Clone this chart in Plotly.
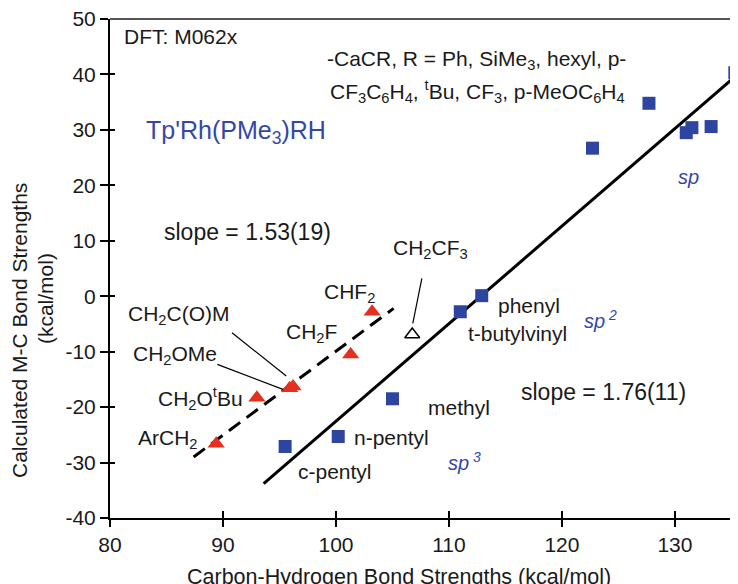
import plotly.graph_objects as go

# ---- data ----
sq_x = [135.3, 127.7, 122.7, 131.0, 131.5, 133.2, 112.9, 111.0, 105.0, 100.2, 95.5]
sq_y = [40.3, 34.8, 26.7, 29.5, 30.4, 30.6, 0.1, -2.8, -18.5, -25.3, -27.1]

tri_x = [89.4, 93.0, 95.9, 96.2, 101.3, 103.2]
tri_y = [-26.6, -18.3, -16.6, -16.3, -10.5, -2.8]

open_tri_x = [106.75]
open_tri_y = [-6.9]

fit_sp_x = [93.6, 135.6]
fit_sp_y = [-33.8, 40.1]

fit_dash_x = [87.4, 105.1]
fit_dash_y = [-29.0, -2.2]

x_ticks = [80, 90, 100, 110, 120, 130]
x_tick_labels = ["80", "90", "100", "110", "120", "130"]
y_ticks = [-40, -30, -20, -10, 0, 10, 20, 30, 40, 50]
y_tick_labels = ["-40", "-30", "-20", "-10", "0", "10", "20", "30", "40", "50"]

BLUE = "#2d44a1"
RED = "#e5301f"
TXT = "#1a1a1a"
FONT = "Liberation Sans, Arial, sans-serif"

fig = go.Figure()

fig.add_trace(go.Scatter(x=fit_sp_x, y=fit_sp_y, mode="lines",
                         line=dict(color="black", width=3), hoverinfo="skip"))
fig.add_trace(go.Scatter(x=fit_dash_x, y=fit_dash_y, mode="lines",
                         line=dict(color="black", width=3, dash="14px,8px"), hoverinfo="skip"))
fig.add_trace(go.Scatter(x=sq_x, y=sq_y, mode="markers",
                         marker=dict(symbol="square", size=13, color=BLUE, line=dict(width=0))))
fig.add_trace(go.Scatter(x=tri_x, y=tri_y, mode="markers",
                         marker=dict(symbol="triangle-up", size=15, color=RED, line=dict(width=0))))
fig.add_trace(go.Scatter(x=open_tri_x, y=open_tri_y, mode="markers",
                         marker=dict(symbol="triangle-up-open", size=13, color="black",
                                     line=dict(width=1.5, color="black"))))
# invisible trace on the overlay axes (for inside tick marks)
fig.add_trace(go.Scatter(x=[80], y=[-40], xaxis="x2", yaxis="y2", mode="markers",
                         marker=dict(opacity=0), hoverinfo="skip"))

# leader lines
leaders = [
    ((90.8, -6.6), (95.6, -14.4)),
    ((89.5, -12.3), (95.3, -16.8)),
    ((107.6, 3.2), (106.8, -4.9)),
]
for (x0, y0), (x1, y1) in leaders:
    fig.add_shape(type="line", x0=x0, y0=y0, x1=x1, y1=y1, xref="x", yref="y",
                  line=dict(color="black", width=1.2))

# top frame line
fig.add_shape(type="line", xref="paper", yref="paper", x0=0, x1=1, y0=1, y1=1,
              line=dict(color="#555555", width=2))

def lab(text, x, y, size=21, color=TXT, italic=False):
    fig.add_annotation(x=x, y=y, xref="x", yref="y", text=text, showarrow=False,
                       xanchor="left", yanchor="middle",
                       font=dict(family=FONT, size=size, color=color,
                                 style="italic" if italic else "normal"))

SUBBLUE = "#3447a8"
lab("DFT: M062x", 81.1, 46.8, size=21)
lab("-CaCR, R = Ph, SiMe<sub>3</sub>, hexyl, p-", 99.0, 42.6, size=21)
lab("CF<sub>3</sub>C<sub>6</sub>H<sub>4</sub>, <sup>t</sup>Bu, CF<sub>3</sub>, p-MeOC<sub>6</sub>H<sub>4</sub>", 99.3, 37.0, size=21)
lab("Tp'Rh(PMe<sub>3</sub>)RH", 83.0, 29.6, size=25, color=SUBBLUE)
lab("slope = 1.53(19)", 84.6, 11.5, size=23)
lab("CH<sub>2</sub>CF<sub>3</sub>", 104.9, 8.6)
lab("CHF<sub>2</sub>", 98.8, 0.6)
lab("CH<sub>2</sub>C(O)M", 81.4, -3.4)
lab("CH<sub>2</sub>F", 95.4, -6.6)
lab("CH<sub>2</sub>OMe", 81.9, -10.6)
lab("CH<sub>2</sub>O<sup>t</sup>Bu", 84.1, -18.4)
lab("ArCH<sub>2</sub>", 82.3, -25.8)
lab("n-pentyl", 101.4, -25.4)
lab("c-pentyl", 96.5, -31.7)
lab("methyl", 108.0, -20.0)
lab("phenyl", 114.2, -1.6)
lab("t-butylvinyl", 111.5, -6.7)
lab("slope = 1.76(11)", 116.2, -17.3, size=23)
lab("sp<sup> 2</sup>", 121.8, -4.2, size=20, color=SUBBLUE, italic=True)
lab("sp<sup> 3</sup>", 109.7, -29.8, size=20, color=SUBBLUE, italic=True)
lab("sp", 130.1, 21.5, size=20, color=SUBBLUE, italic=True)

# axis titles
fig.add_annotation(x=105.6, y=-0.118, xref="x", yref="paper", text="Carbon-Hydrogen Bond Strengths (kcal/mol)",
                   showarrow=False, xanchor="center", yanchor="middle",
                   font=dict(family=FONT, size=21.5, color=TXT))
fig.add_annotation(x=-0.145, y=-6.1, xref="paper", yref="y", text="Calculated M-C Bond Strengths",
                   showarrow=False, textangle=-90, xanchor="center", yanchor="middle",
                   font=dict(family=FONT, size=21, color=TXT))
fig.add_annotation(x=-0.1025, y=-0.4, xref="paper", yref="y", text="(kcal/mol)",
                   showarrow=False, textangle=-90, xanchor="center", yanchor="middle",
                   font=dict(family=FONT, size=21, color=TXT))

xr = [80, 135.58]
yr = [-40, 50]
fig.update_layout(
    width=730, height=576,
    margin=dict(l=102, r=0, t=11, b=66),
    paper_bgcolor="white", plot_bgcolor="white",
    showlegend=False,
    xaxis=dict(range=xr, tickvals=x_ticks, ticktext=x_tick_labels, ticks="outside",
               ticklen=7, tickwidth=2,
               tickcolor="black", showline=True, linecolor="black", linewidth=2,
               showgrid=False, zeroline=False, ticklabeloverflow="allow",
               tickfont=dict(family=FONT, size=21, color=TXT)),
    yaxis=dict(range=yr, tickvals=y_ticks, ticktext=y_tick_labels, ticks="outside",
               ticklen=8, tickwidth=2,
               tickcolor="black", showline=True, linecolor="black", linewidth=2,
               showgrid=False, zeroline=False, ticklabeloverflow="allow",
               tickfont=dict(family=FONT, size=21, color=TXT)),
    xaxis2=dict(range=xr, tickvals=x_ticks, ticks="inside", ticklen=7, tickwidth=2,
                tickcolor="black", overlaying="x", anchor="y2", side="bottom",
                showticklabels=False, showgrid=False, zeroline=False, showline=False),
    yaxis2=dict(range=yr, tickvals=y_ticks, ticks="inside", ticklen=5, tickwidth=2,
                tickcolor="black", overlaying="y", anchor="x2", side="left",
                showticklabels=False, showgrid=False, zeroline=False, showline=False),
)

fig.write_html("out.html")
